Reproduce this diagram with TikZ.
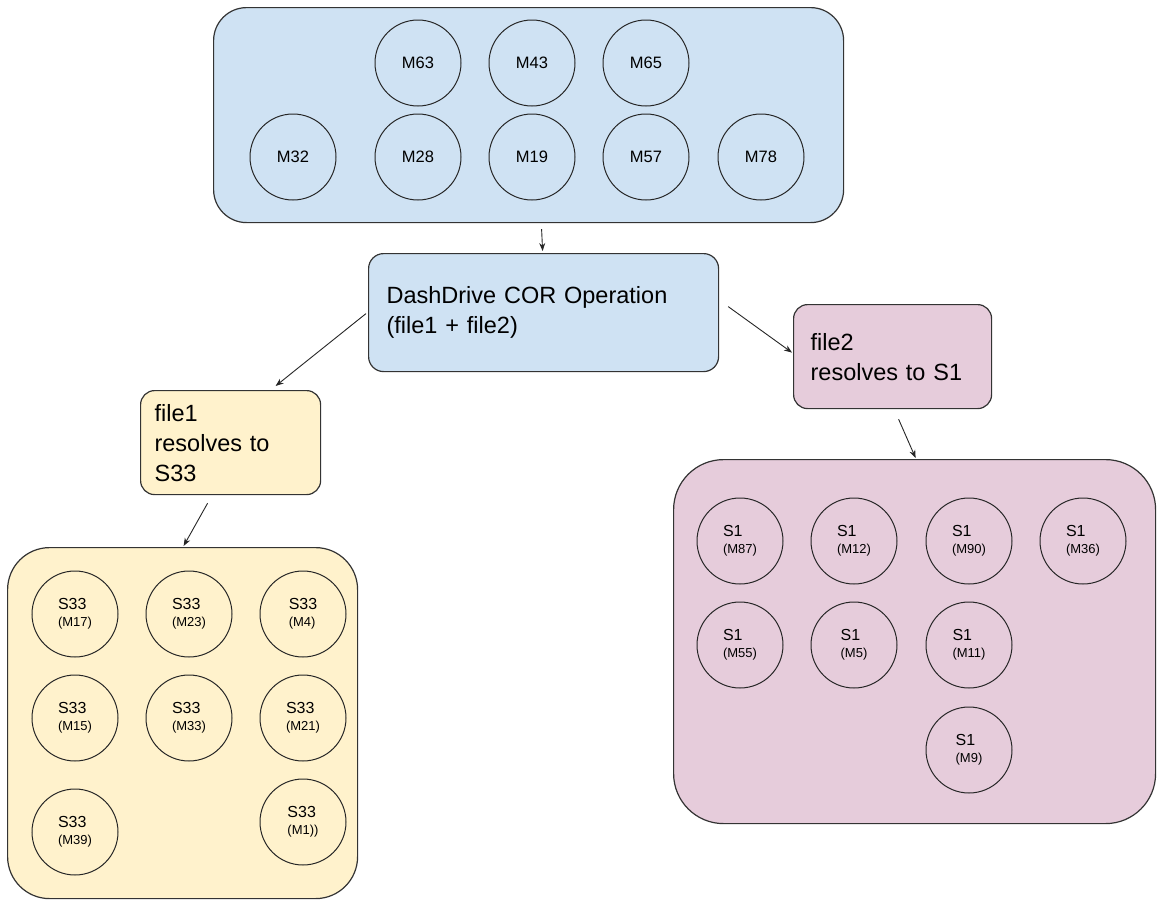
\documentclass[tikz,border=0pt]{standalone}
\usepackage{fontspec}
\setmainfont{Liberation Sans}
\usetikzlibrary{arrows.meta}
\definecolor{lblue}{HTML}{CFE2F3}
\definecolor{lyellow}{HTML}{FFF2CC}
\definecolor{lpink}{HTML}{E6CCDB}
\definecolor{edge}{HTML}{333333}
\newcommand{\twol}[2]{#1\\[1pt]{\fontsize{13}{14}\selectfont #2}}
\begin{document}
\begin{tikzpicture}[x=1pt,y=-1pt,
  container/.style={draw=edge, line width=1.2pt, inner sep=0pt, anchor=north west},
  textbox/.style={draw=edge, line width=1.2pt, anchor=north west, align=left, inner ysep=0pt,
     font=\fontsize{23.5}{30}\selectfont},
  circ/.style={circle, draw=black!85, line width=1pt, minimum size=86pt, inner sep=0pt,
     font=\fontsize{16.5}{18}\selectfont},
  scirc/.style={circ, align=left, font=\fontsize{16}{16}\selectfont},
  arr/.style={draw=black!85, line width=0.9pt, -{Stealth[length=8pt,width=6pt]}}
]
\useasboundingbox (0,0) rectangle (1157,900);

% containers
\node[container, fill=lblue, rounded corners=33pt, minimum width=630pt, minimum height=215pt] (top) at (213,7) {};
\node[container, fill=lyellow, rounded corners=42pt, minimum width=350pt, minimum height=351pt] (ybox) at (7,547) {};
\node[container, fill=lpink, rounded corners=50pt, minimum width=482pt, minimum height=364pt] (pbox) at (673,459) {};

% text boxes
\node[textbox, fill=lblue, rounded corners=15pt, minimum width=350pt, minimum height=118pt, inner xsep=18pt, text width=314pt] (main) at (368,253) {DashDrive COR Operation\\(file1 + file2)};
\node[textbox, fill=lpink, rounded corners=14pt, minimum width=198pt, minimum height=104pt, inner xsep=17pt, text width=164pt] (file2) at (793,304) {file2\\resolves to S1};
\node[textbox, fill=lyellow, rounded corners=14pt, minimum width=180pt, minimum height=104pt, inner xsep=14pt, text width=152pt] (file1) at (140,390) {file1\\resolves to\\S33};

% top circles
\node[circ] (m63) at (418,63) {M63};
\node[circ] (m43) at (532,63) {M43};
\node[circ] (m65) at (646,63) {M65};
\node[circ] (m32) at (293,157) {M32};
\node[circ] (m28) at (418,157) {M28};
\node[circ] (m19) at (532,157) {M19};
\node[circ] (m57) at (646,157) {M57};
\node[circ] (m78) at (761,157) {M78};

% S33 circles
\node[scirc] (a1) at (75,614) {\twol{S33}{(M17)}};
\node[scirc] (a2) at (189,614) {\twol{S33}{(M23)}};
\node[scirc] (a3) at (303,614) {\twol{S33}{(M4)}};
\node[scirc] (a4) at (75,718) {\twol{S33}{(M15)}};
\node[scirc] (a5) at (189,718) {\twol{S33}{(M33)}};
\node[scirc] (a6) at (303,718) {\twol{S33}{(M21)}};
\node[scirc] (a7) at (75,832) {\twol{S33}{(M39)}};
\node[scirc] (a8) at (303,822) {\twol{S33}{(M1))}};

% S1 circles
\node[scirc] (b1) at (740,541) {\twol{S1}{(M87)}};
\node[scirc] (b2) at (854,541) {\twol{S1}{(M12)}};
\node[scirc] (b3) at (969,541) {\twol{S1}{(M90)}};
\node[scirc] (b4) at (1083,541) {\twol{S1}{(M36)}};
\node[scirc] (b5) at (740,645) {\twol{S1}{(M55)}};
\node[scirc] (b6) at (854,645) {\twol{S1}{(M5)}};
\node[scirc] (b7) at (969,645) {\twol{S1}{(M11)}};
\node[scirc] (b8) at (969,750) {\twol{S1}{(M9)}};

% arrows
\draw[arr] ([xshift=13pt,yshift=-6pt]top.south) -- ([xshift=-1pt,yshift=2pt]main.north);
\draw[arr] ([xshift=-2pt,yshift=-1pt]main.west) -- ([xshift=45pt,yshift=4pt]file1.north);
\draw[arr] ([xshift=9pt,yshift=6pt]main.east) -- ([xshift=-1pt,yshift=4pt]file2.west);
\draw[arr] ([xshift=6pt,yshift=-10pt]file2.south) -- ([xshift=1pt,yshift=1pt]pbox.north);
\draw[arr] ([xshift=-23pt,yshift=-8pt]file1.south) -- ([xshift=1pt,yshift=1pt]ybox.north);
\end{tikzpicture}
\end{document}
